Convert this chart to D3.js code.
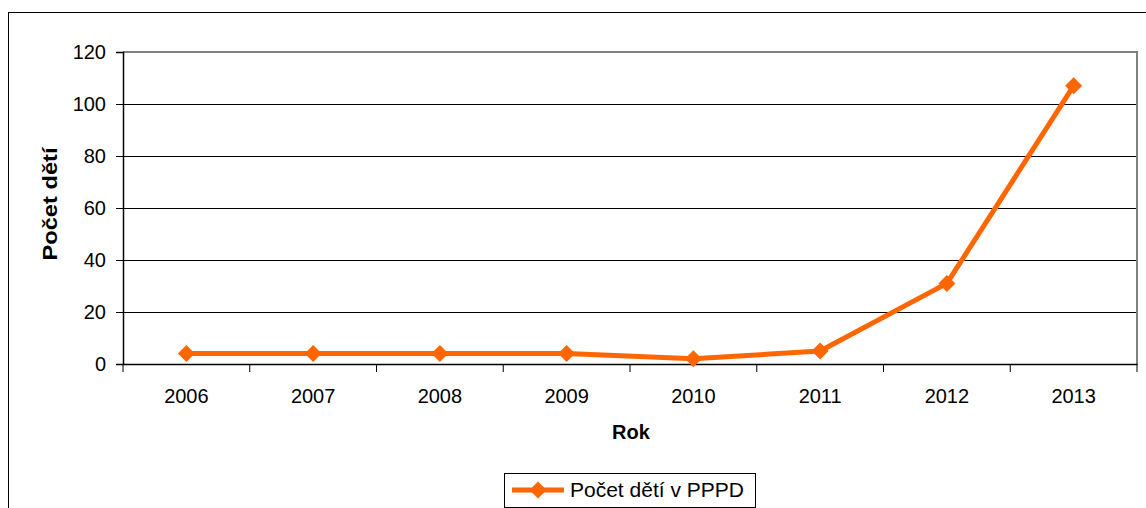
<!DOCTYPE html>
<html><head><meta charset="utf-8">
<script src="https://cdn.jsdelivr.net/npm/d3@7"></script>
<style>body{margin:0;background:#fff}svg{display:block}text{font-family:"Liberation Sans",Arial,sans-serif}</style>
</head><body>
<script>
const years = ["2006","2007","2008","2009","2010","2011","2012","2013"];
const values = [4,4,4,4,2,5,31,107];
const yTicks = [0,20,40,60,80,100,120];
const seriesName = "Počet dětí v PPPD";
const xTitle = "Rok";
const yTitle = "Počet dětí";

const W = 1146, H = 508;
const svg = d3.select("body").append("svg").attr("width", W).attr("height", H);
svg.append("rect").attr("x",8.5).attr("y",12.5).attr("width",1300).attr("height",600)
  .attr("fill","#fff").attr("stroke","#000").attr("stroke-width",1);

const L = 123, R = 1137, T = 52, B = 364;
const x = d3.scaleBand().domain(years).range([L, R]);
const y = d3.scaleLinear().domain([0,120]).range([B, T]);

// gridlines
svg.append("g").selectAll("line").data(yTicks.filter(d => d>0 && d<120)).join("line")
  .attr("x1",L).attr("x2",R).attr("y1",d=>y(d)+0.5).attr("y2",d=>y(d)+0.5)
  .attr("stroke","#000").attr("stroke-width",1);
// plot area border top/right grey
svg.append("path").attr("d",`M${L},${T} H${R} V${B}`).attr("fill","none")
  .attr("stroke","#808080").attr("stroke-width",2);

// y axis
const ya = svg.append("g").attr("transform",`translate(${L},0)`)
  .call(d3.axisLeft(y).tickValues(yTicks).tickSize(7).tickPadding(10));
ya.select(".domain").attr("stroke","#000").attr("stroke-width",1.5);
ya.selectAll(".tick line").attr("stroke","#000");
ya.selectAll("text").attr("font-size",20).attr("fill","#000").attr("font-family",'"Liberation Sans",Arial,sans-serif');

// x axis
const xa = svg.append("g").attr("transform",`translate(0,${B})`)
  .call(d3.axisBottom(x).tickSize(0).tickPadding(25));
xa.select(".domain").attr("stroke","#000").attr("stroke-width",1.5);
xa.selectAll("text").attr("font-size",20).attr("fill","#000").attr("font-family",'"Liberation Sans",Arial,sans-serif');
// category boundary ticks
const bounds = years.map(d => x(d)).concat([R]);
svg.append("g").selectAll("line").data(bounds).join("line")
  .attr("x1",d=>d).attr("x2",d=>d).attr("y1",B).attr("y2",B+8)
  .attr("stroke","#000").attr("stroke-width",1);

// titles
svg.append("text").attr("x",631).attr("y",439).attr("text-anchor","middle")
  .attr("font-size",20).attr("font-weight","bold").text(xTitle);
svg.append("text").attr("transform","translate(57,204) rotate(-90)").attr("text-anchor","middle")
  .attr("font-size",20).attr("font-weight","bold")
  .attr("textLength",113).attr("lengthAdjust","spacingAndGlyphs").text(yTitle);

// line
const cx = d => x(d) + x.bandwidth()/2;
const col = "#FF6600";
svg.append("path").datum(years.map((d,i)=>[cx(d), y(values[i])]))
  .attr("d", d3.line()).attr("fill","none").attr("stroke",col).attr("stroke-width",5)
  .attr("stroke-linejoin","round");
const diamond = s => `M0,${-s} L${s},0 L0,${s} L${-s},0 Z`;
svg.append("g").selectAll("path").data(years).join("path")
  .attr("transform",(d,i)=>`translate(${cx(d)},${y(values[i])})`)
  .attr("d", diamond(8.5)).attr("fill",col);

// legend
svg.append("rect").attr("x",504.5).attr("y",473.5).attr("width",251).attr("height",34)
  .attr("fill","#fff").attr("stroke","#000").attr("stroke-width",1);
svg.append("line").attr("x1",512).attr("x2",564).attr("y1",490).attr("y2",490)
  .attr("stroke",col).attr("stroke-width",5);
svg.append("path").attr("transform","translate(538,490)").attr("d",diamond(8.5)).attr("fill",col);
svg.append("text").attr("x",570).attr("y",497).attr("font-size",21).text(seriesName);
</script>
</body></html>
